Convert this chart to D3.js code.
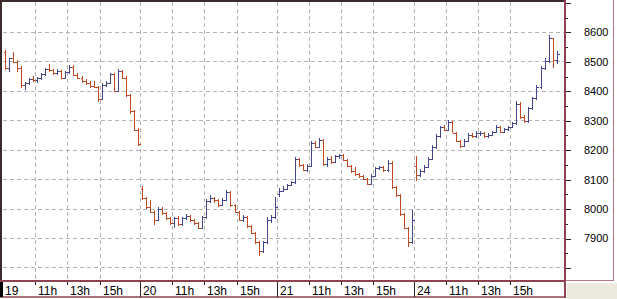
<!DOCTYPE html>
<html>
<head>
<meta charset="utf-8">
<script src="https://cdn.jsdelivr.net/npm/d3@7"></script>
<style>
  body { margin: 0; background: #fff; }
  svg { display: block; font-family: "Liberation Sans", Arial, sans-serif; }
</style>
</head>
<body>
<div id="chart"></div>
<script>
// Trading days and hour labels
var days = ["19", "20", "21", "24"];
var hourTicks = [11, 13, 15];
var yTicks = [7800, 7900, 8000, 8100, 8200, 8300, 8400, 8500, 8600];
var yLabels = [7900, 8000, 8100, 8200, 8300, 8400, 8500, 8600];

// 15 minute bars, [open, high, low, close], session 9h - 17h30
var bars19 = [
    [8532, 8539, 8471, 8478], [8478, 8512, 8464, 8512], [8512, 8532, 8495, 8498], [8498, 8505, 8464, 8478],
    [8478, 8484, 8410, 8420], [8420, 8430, 8403, 8427], [8427, 8444, 8420, 8440], [8440, 8450, 8430, 8437],
    [8437, 8447, 8427, 8444], [8444, 8461, 8437, 8458], [8458, 8478, 8450, 8475], [8475, 8490, 8465, 8470],
    [8470, 8475, 8455, 8462], [8462, 8475, 8455, 8468], [8468, 8472, 8440, 8445], [8445, 8468, 8440, 8465],
    [8465, 8488, 8458, 8482], [8482, 8486, 8450, 8455], [8455, 8460, 8440, 8444], [8444, 8450, 8425, 8432],
    [8432, 8440, 8420, 8428], [8428, 8432, 8410, 8415], [8415, 8432, 8410, 8412], [8412, 8418, 8362, 8372],
    [8372, 8425, 8368, 8420], [8420, 8432, 8412, 8428], [8428, 8462, 8422, 8458], [8458, 8462, 8395, 8400],
    [8400, 8475, 8398, 8468], [8468, 8472, 8440, 8445], [8445, 8450, 8378, 8385], [8385, 8390, 8320, 8330],
    [8330, 8335, 8262, 8268], [8268, 8272, 8212, 8218]
];
var bars20 = [
    [8065, 8078, 8030, 8036], [8036, 8040, 7998, 8005], [8005, 8030, 7985, 7990], [7990, 7995, 7945, 7962],
    [7962, 8005, 7958, 8000], [8000, 8005, 7978, 7985], [7985, 7990, 7962, 7968], [7968, 7972, 7945, 7950],
    [7950, 7972, 7935, 7968], [7968, 7975, 7942, 7946], [7946, 7972, 7940, 7968], [7968, 7982, 7962, 7975],
    [7975, 7978, 7955, 7960], [7960, 7965, 7945, 7950], [7950, 7955, 7930, 7935], [7935, 7975, 7932, 7970],
    [7970, 8032, 7965, 8025], [8025, 8045, 8018, 8035], [8035, 8040, 8020, 8028], [8028, 8032, 8005, 8012],
    [8012, 8035, 8008, 8030], [8030, 8062, 8025, 8055], [8055, 8058, 8005, 8012], [8012, 8015, 7985, 7990],
    [7990, 7992, 7958, 7962], [7962, 7978, 7955, 7972], [7972, 7975, 7935, 7940], [7940, 7945, 7912, 7918],
    [7918, 7922, 7880, 7885], [7885, 7890, 7840, 7855], [7855, 7890, 7850, 7885], [7885, 7970, 7880, 7962],
    [7962, 7978, 7950, 7972], [7972, 8040, 7965, 8005]
];
var bars21 = [
    [8050, 8070, 8040, 8060], [8060, 8075, 8055, 8068], [8068, 8085, 8062, 8080], [8080, 8095, 8075, 8090],
    [8090, 8175, 8085, 8168], [8168, 8172, 8140, 8148], [8148, 8152, 8128, 8132], [8132, 8150, 8125, 8145],
    [8145, 8230, 8140, 8222], [8222, 8228, 8205, 8210], [8210, 8240, 8205, 8232], [8232, 8236, 8145, 8150],
    [8150, 8175, 8142, 8170], [8170, 8178, 8152, 8158], [8158, 8182, 8155, 8178], [8178, 8186, 8168, 8182],
    [8182, 8184, 8160, 8165], [8165, 8168, 8140, 8145], [8145, 8148, 8120, 8128], [8128, 8142, 8112, 8118],
    [8118, 8122, 8105, 8112], [8112, 8115, 8098, 8102], [8102, 8105, 8080, 8085], [8085, 8118, 8082, 8112],
    [8112, 8142, 8108, 8138], [8138, 8145, 8130, 8140], [8140, 8144, 8125, 8130], [8130, 8165, 8125, 8155],
    [8155, 8160, 8065, 8072], [8072, 8076, 8040, 8046], [8046, 8050, 7975, 7980], [7980, 7985, 7930, 7935],
    [7935, 7938, 7870, 7885], [7885, 7995, 7878, 7960]
];
var bars24 = [
    [8145, 8180, 8095, 8115], [8115, 8135, 8108, 8128], [8128, 8148, 8120, 8142], [8142, 8175, 8138, 8170],
    [8170, 8215, 8165, 8208], [8208, 8252, 8202, 8245], [8245, 8282, 8240, 8276], [8276, 8285, 8262, 8268],
    [8268, 8300, 8262, 8295], [8295, 8298, 8255, 8258], [8258, 8260, 8225, 8230], [8230, 8234, 8205, 8212],
    [8212, 8235, 8208, 8228], [8228, 8255, 8225, 8250], [8250, 8258, 8240, 8245], [8245, 8262, 8240, 8255],
    [8255, 8265, 8248, 8258], [8258, 8260, 8240, 8245], [8245, 8255, 8238, 8250], [8250, 8265, 8245, 8260],
    [8260, 8285, 8255, 8278], [8278, 8282, 8255, 8260], [8260, 8275, 8255, 8270], [8270, 8282, 8265, 8278],
    [8278, 8295, 8272, 8290], [8290, 8365, 8285, 8355], [8355, 8362, 8305, 8312], [8312, 8318, 8290, 8298],
    [8298, 8345, 8292, 8340], [8340, 8380, 8335, 8375], [8375, 8420, 8370, 8412], [8412, 8485, 8405, 8478],
    [8478, 8510, 8470, 8500], [8500, 8590, 8495, 8580], [8580, 8560, 8478, 8505], [8505, 8535, 8490, 8525]
];

var width = 617;
var height = 299;
var plotLeft = 3, plotRight = 564, plotTop = 1, plotBottom = 281;
var sessionMinutes = 510;
var borderColor = "#8e4450";
var gridColor = "#b4b4b4";

function BuildBars() {
    var data = [];
    [bars19, bars20, bars21, bars24].forEach(function (dayBars, d) {
        dayBars.forEach(function (b, i) {
            data.push({t: d * sessionMinutes + i * 15 + 7.5, o: b[0], h: Math.max(b[1], b[0], b[3]), l: b[2], c: b[3]});
        });
    });
    return data;
}

function DrawChart() {
    var svg = d3.select('#chart')
        .append('svg')
        .attr('width', width)
        .attr('height', height);

    var xScale = d3.scaleLinear()
        .domain([0, 2090])
        .range([plotLeft, plotRight]);

    var yScale = d3.scaleLinear()
        .domain([7754, 8705])
        .range([plotBottom, plotTop]);

    // bottom-right filler
    svg.append('rect')
        .attr('x', 567).attr('y', 283)
        .attr('width', 50).attr('height', 16)
        .attr('fill', '#ece9df');

    // time ticks
    var timeTicks = [];
    days.forEach(function (day, d) {
        timeTicks.push({t: d * sessionMinutes, label: day, day: true, first: d === 0});
        hourTicks.forEach(function (h) {
            timeTicks.push({t: d * sessionMinutes + (h - 9) * 60, label: h + "h", day: false});
        });
    });

    // grid
    svg.append('g')
        .selectAll('line')
        .data(yTicks)
        .enter()
        .append('line')
            .attr('x1', plotLeft).attr('x2', plotRight)
            .attr('y1', function (d) { return Math.round(yScale(d)) + 0.5; })
            .attr('y2', function (d) { return Math.round(yScale(d)) + 0.5; })
            .attr('stroke', gridColor)
            .attr('stroke-dasharray', '4,3');

    svg.append('g')
        .selectAll('line')
        .data(timeTicks.filter(function (d) { return !d.first; }))
        .enter()
        .append('line')
            .attr('x1', function (d) { return Math.round(xScale(d.t)) + 0.5; })
            .attr('x2', function (d) { return Math.round(xScale(d.t)) + 0.5; })
            .attr('y1', plotTop + 1).attr('y2', plotBottom)
            .attr('stroke', gridColor)
            .attr('stroke-dasharray', '4,3');

    // OHLC bars
    var data = BuildBars();
    svg.append('g')
        .selectAll('path')
        .data(data)
        .enter()
        .append('path')
            .attr('fill', 'none')
            .attr('stroke-width', 1)
            .attr('shape-rendering', 'crispEdges')
            .attr('stroke', function (d) { return d.c >= d.o ? '#44468e' : '#c04a22'; })
            .attr('d', function (d) {
                var x = Math.round(xScale(d.t)) + 0.5;
                var yo = Math.round(yScale(d.o)) + 0.5;
                var yc = Math.round(yScale(d.c)) + 0.5;
                return 'M' + x + ',' + yScale(d.h) + 'V' + yScale(d.l) +
                    'M' + (x - 2) + ',' + yo + 'H' + x +
                    'M' + x + ',' + yc + 'H' + (x + 2);
            });

    // frame
    svg.append('line')
        .attr('x1', 0).attr('x2', 566).attr('y1', 1).attr('y2', 1)
        .attr('stroke', '#3c2a2a').attr('stroke-width', 2);
    svg.append('line')
        .attr('x1', 1).attr('x2', 1).attr('y1', 0).attr('y2', 297)
        .attr('stroke', '#3c2a2a').attr('stroke-width', 2);
    svg.append('line')
        .attr('x1', 0).attr('x2', 566).attr('y1', 281).attr('y2', 281)
        .attr('stroke', borderColor).attr('stroke-width', 2);
    svg.append('line')
        .attr('x1', 0).attr('x2', 566).attr('y1', 297).attr('y2', 297)
        .attr('stroke', borderColor).attr('stroke-width', 1.5);
    svg.append('line')
        .attr('x1', 565).attr('x2', 565).attr('y1', 0).attr('y2', 298)
        .attr('stroke', borderColor).attr('stroke-width', 2);
    // right axis panel
    svg.append('line')
        .attr('x1', 613.5).attr('x2', 613.5).attr('y1', 0).attr('y2', 280)
        .attr('stroke', '#b07884').attr('stroke-width', 1);
    svg.append('line')
        .attr('x1', 566).attr('x2', 614).attr('y1', 280.5).attr('y2', 280.5)
        .attr('stroke', '#b07884').attr('stroke-width', 1);

    // x axis ticks and labels
    var xAxis = svg.append('g');
    xAxis.selectAll('line')
        .data(timeTicks)
        .enter()
        .append('line')
            .attr('x1', function (d) { return d.first ? 1.5 : Math.round(xScale(d.t)) + 0.5; })
            .attr('x2', function (d) { return d.first ? 1.5 : Math.round(xScale(d.t)) + 0.5; })
            .attr('y1', 282)
            .attr('y2', function (d) { return d.day ? 297 : 285; })
            .attr('stroke', function (d) { return d.first ? '#000' : '#222'; })
            .attr('stroke-width', function (d) { return d.first ? 3 : 1; });
    xAxis.selectAll('text')
        .data(timeTicks)
        .enter()
        .append('text')
            .attr('x', function (d) { return d.first ? 5 : Math.round(xScale(d.t)) + 3; })
            .attr('y', 295)
            .attr('font-size', 12)
            .attr('fill', '#000')
            .text(function (d) { return d.label; });

    // y axis on the right
    var yAxis = d3.axisRight(yScale)
        .tickValues(d3.range(7800, 8701, 50))
        .tickSize(0)
        .tickFormat("");
    var yg = svg.append('g')
        .attr('transform', 'translate(566,0)')
        .call(yAxis);
    yg.select('.domain').remove();
    yg.selectAll('.tick line').remove();
    yg.selectAll('.tick')
        .append('line')
            .attr('x1', 0)
            .attr('x2', function (d) { return d % 100 === 0 ? 5 : 2; })
            .attr('y1', 0.5).attr('y2', 0.5)
            .attr('stroke', '#222')
            .attr('shape-rendering', 'crispEdges');
    yg.selectAll('.tick')
        .filter(function (d) { return yLabels.indexOf(d) >= 0; })
        .append('text')
            .attr('x', 18)
            .attr('dy', '0.36em')
            .attr('fill', '#000')
            .attr('font-size', 11)
            .attr('text-anchor', 'start')
            .text(function (d) { return d; });
}

DrawChart();
</script>
</body>
</html>
